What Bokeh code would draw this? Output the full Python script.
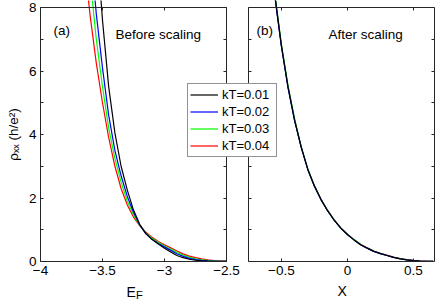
from bokeh.plotting import figure
from bokeh.models import Range1d, LinearAxis, FixedTicker, Label, Legend, LegendItem
from bokeh.embed import file_html
from bokeh.resources import INLINE

# ---------------- data ----------------
# panel (a): rho_xx vs E_F, before scaling
E_F = [-3.65, -3.6, -3.55, -3.5, -3.45, -3.4, -3.35, -3.3, -3.25, -3.2, -3.15, -3.1,
       -3.05, -3.0, -2.95, -2.9, -2.85, -2.8, -2.75, -2.7, -2.65, -2.6, -2.55, -2.5]
rho_a_kT001 = [18.0, 13.5, 10.2, 7.6, 5.5, 4.05, 3.0, 2.25, 1.62, 1.17, 0.88, 0.69,
               0.55, 0.42, 0.30, 0.19, 0.12, 0.07, 0.04, 0.02, 0.01, 0.005, 0.003, 0.002]
rho_a_kT002 = [13.0, 10.0, 7.8, 6.1, 4.6, 3.5, 2.7, 2.05, 1.55, 1.15, 0.87, 0.70,
               0.57, 0.46, 0.35, 0.245, 0.16, 0.10, 0.06, 0.035, 0.02, 0.01, 0.006, 0.004]
rho_a_kT003 = [11.3, 8.9, 7.0, 5.5, 4.2, 3.25, 2.5, 1.9, 1.47, 1.14, 0.89, 0.73,
               0.60, 0.49, 0.39, 0.285, 0.20, 0.13, 0.085, 0.055, 0.035, 0.02, 0.012, 0.008]
rho_a_kT004 = [9.6, 7.75, 6.25, 5.0, 3.9, 3.0, 2.3, 1.78, 1.40, 1.13, 0.92, 0.76,
               0.63, 0.53, 0.43, 0.33, 0.24, 0.17, 0.12, 0.08, 0.05, 0.03, 0.015, 0.01]

# panel (b): rho_xx vs scaled variable X, after scaling
X = [-0.6, -0.55, -0.5, -0.45, -0.4, -0.35, -0.3, -0.25, -0.2, -0.15, -0.1, -0.05, 0.0,
     0.05, 0.1, 0.15, 0.2, 0.25, 0.3, 0.35, 0.4, 0.45, 0.5, 0.55, 0.6, 0.65]
rho_b_kT001 = [10.5, 8.4, 6.8, 5.5, 4.45, 3.6, 2.9, 2.38, 1.95, 1.6, 1.3, 1.05, 0.85,
               0.68, 0.53, 0.42, 0.32, 0.25, 0.19, 0.13, 0.085, 0.05, 0.025, 0.01, 0.005, 0.003]
rho_b_kT002 = [10.4, 8.35, 6.78, 5.48, 4.44, 3.6, 2.9, 2.37, 1.95, 1.6, 1.3, 1.05, 0.85,
               0.68, 0.53, 0.42, 0.32, 0.25, 0.19, 0.13, 0.087, 0.052, 0.028, 0.012, 0.006, 0.004]
rho_b_kT003 = [10.6, 8.45, 6.85, 5.55, 4.5, 3.62, 2.92, 2.39, 1.96, 1.61, 1.31, 1.06, 0.86,
               0.69, 0.54, 0.42, 0.33, 0.25, 0.19, 0.135, 0.088, 0.055, 0.03, 0.015, 0.008, 0.005]
rho_b_kT004 = [10.5, 8.4, 6.82, 5.52, 4.47, 3.61, 2.91, 2.39, 1.96, 1.61, 1.31, 1.06, 0.86,
               0.69, 0.54, 0.43, 0.33, 0.26, 0.2, 0.14, 0.09, 0.058, 0.034, 0.02, 0.012, 0.008]

series_labels = ["kT=0.01", "kT=0.02", "kT=0.03", "kT=0.04"]

x_ticks_a = [-4, -3.5, -3, -2.5]
x_tick_labels_a = ["\u22124", "\u22123.5", "\u22123", "\u22122.5"]
x_ticks_b = [-0.5, 0, 0.5]
x_tick_labels_b = ["\u22120.5", "0", "0.5"]
y_ticks = [0, 2, 4, 6, 8]
y_tick_labels = ["0", "2", "4", "6", "8"]
y_minor_ticks = [1, 3, 5, 7]

# axis limits of the two panels
xlim_a = (-4.0, -2.5)
xlim_b = (-0.75, 0.66)
ylim = (0, 8)

# ---------------- styling / layout ----------------
colors = ["#000000", "#0000ff", "#00ff00", "#ff0000"]
FONT = "Liberation Sans"
AX = "#262626"
TICK_FS = "13.5px"
# One shared plotting area covering x pixels 0..434 and y pixels 0..300.
# Panel (a): 124 px/unit, its left edge 40 px from the left; panel (b): 132 px/unit,
# its right edge at the right of the area; y: 31.75 px/unit with rho=8 at 7 px from the
# top and 39 px below rho=0 for tick labels and axis titles.
FRAME_W = 434
LEFT_PX = 40
PX_A = 124.0
PX_B = 132.0
PX_Y = 31.75
TOP_PX = 7
BELOW_PX = 39


def style_axis(ax, show_labels, ticks, minor, overrides):
    ax.ticker = FixedTicker(ticks=ticks, minor_ticks=minor)
    ax.axis_line_color = AX
    ax.axis_line_width = 1
    ax.major_tick_line_color = AX
    ax.minor_tick_line_color = AX
    ax.major_tick_in = 3
    ax.major_tick_out = 0
    ax.minor_tick_in = 3
    ax.minor_tick_out = 0
    ax.major_label_text_font = FONT
    ax.major_label_text_font_size = TICK_FS
    ax.major_label_text_color = "#000000"
    if show_labels:
        ax.major_label_overrides = overrides
        ax.major_label_standoff = 4
    else:
        ax.major_label_overrides = {t: "" for t in ticks}
        ax.major_label_standoff = 0


xa0 = xlim_a[0] - LEFT_PX / PX_A
x_range_a = Range1d(xa0, xa0 + FRAME_W / PX_A)
x_range_b = Range1d(xlim_b[1] - FRAME_W / PX_B, xlim_b[1])
y_range = Range1d(ylim[0] - BELOW_PX / PX_Y, ylim[1] + TOP_PX / PX_Y)

p = figure(width=440, height=300, x_range=x_range_a, y_range=y_range,
           output_backend="svg", toolbar_location=None, x_axis_location=None,
           min_border_left=0, min_border_right=6, min_border_top=0, min_border_bottom=0)
p.extra_x_ranges = {"b": x_range_b}
p.grid.visible = False
p.outline_line_color = None
p.background_fill_color = "#ffffff"
p.border_fill_color = "#ffffff"

ov_xa = dict(zip(x_ticks_a, x_tick_labels_a))
ov_xb = dict(zip(x_ticks_b, x_tick_labels_b))
ov_y = dict(zip(y_ticks, y_tick_labels))

# bottom edges (rho = 0)
ax_ba = LinearAxis(bounds=xlim_a, fixed_location=ylim[0])
style_axis(ax_ba, True, x_ticks_a, [], ov_xa)
p.add_layout(ax_ba, "below")
ax_bb = LinearAxis(x_range_name="b", bounds=xlim_b, fixed_location=ylim[0])
style_axis(ax_bb, True, x_ticks_b, [], ov_xb)
p.add_layout(ax_bb, "below")

# top edges (rho = 8)
ax_ta = LinearAxis(bounds=xlim_a, fixed_location=ylim[1])
style_axis(ax_ta, False, x_ticks_a, [], {})
p.add_layout(ax_ta, "above")
ax_tb = LinearAxis(x_range_name="b", bounds=xlim_b, fixed_location=ylim[1])
style_axis(ax_tb, False, x_ticks_b, [], {})
p.add_layout(ax_tb, "above")

# left axis of panel (a)
ax_la = p.yaxis[0]
style_axis(ax_la, True, y_ticks, y_minor_ticks, ov_y)
ax_la.bounds = ylim
ax_la.fixed_location = xlim_a[0]
ax_la.axis_label = "\u03c1\u2093\u2093 (h/e\u00b2)"
ax_la.axis_label_text_font = FONT
ax_la.axis_label_text_font_size = "13.5px"
ax_la.axis_label_text_font_style = "normal"
ax_la.axis_label_text_color = "#000000"
ax_la.axis_label_standoff = 5
# right edge of panel (a), left edge of panel (b)
ax_ra = LinearAxis(fixed_location=xlim_a[1], bounds=ylim)
style_axis(ax_ra, False, y_ticks, y_minor_ticks, {})
p.add_layout(ax_ra, "right")
ax_lb = LinearAxis(x_range_name="b", fixed_location=xlim_b[0], bounds=ylim)
style_axis(ax_lb, False, y_ticks, y_minor_ticks, {})
p.add_layout(ax_lb, "left")
# right edge of panel (b)
ax_rb = LinearAxis(bounds=ylim)
style_axis(ax_rb, False, y_ticks, y_minor_ticks, {})
p.add_layout(ax_rb, "right")

# ---------------- curves ----------------
series_a = [rho_a_kT001, rho_a_kT002, rho_a_kT003, rho_a_kT004]
series_b = [rho_b_kT001, rho_b_kT002, rho_b_kT003, rho_b_kT004]
rends = {}
for i in [3, 2, 1, 0]:
    rends[i] = p.line(E_F, series_a[i], line_color=colors[i], line_width=1.2)
for i in [3, 2, 1, 0]:
    p.line(X, series_b[i], line_color=colors[i], line_width=1.2, x_range_name="b")


def add_text(x, y, text, size="13.5px"):
    p.add_layout(Label(x=x, y=y, x_units="screen", y_units="screen", text=text,
                       text_font=FONT, text_font_size=size, text_color="#000000",
                       text_baseline="alphabetic", text_align="left"))


# positions in pixels from the left / bottom edge of the plotting area
add_text(53, 270, "(a)")
add_text(115, 266.5, "Before scaling")
add_text(256, 270, "(b)")
add_text(328, 266.5, "After scaling")
add_text(126, 9, "E", "14px")
add_text(135.5, 5.5, "F", "11px")
add_text(337, 9.5, "X", "14px")

legend = Legend(items=[LegendItem(label=series_labels[i], renderers=[rends[i]]) for i in range(4)],
                location=(187, 143), label_text_font=FONT, label_text_font_size="13px",
                label_text_color="#000000", border_line_color=AX, border_line_width=1,
                background_fill_color="#ffffff", background_fill_alpha=1.0,
                glyph_width=28, glyph_height=17, label_height=17, label_width=52,
                spacing=0, padding=2, margin=0, label_standoff=4)
p.add_layout(legend)

open("out.html", "w").write(file_html(p, INLINE))
